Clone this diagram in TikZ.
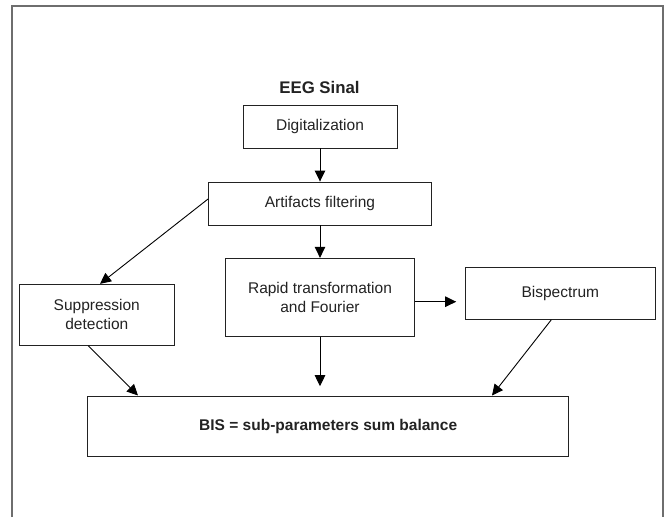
\documentclass[tikz,border=0pt]{standalone}
\usepackage{fontspec}
\setmainfont{Liberation Sans}
\usetikzlibrary{arrows.meta}
\definecolor{ink}{HTML}{222222}
\definecolor{framegray}{HTML}{6E6E6E}
\tikzset{
  box/.style={draw=ink, line width=0.9pt, align=center, inner sep=0pt, text=ink,
              font=\fontsize{15.5}{18.7}\selectfont},
  conn/.style={draw=black, line width=0.9pt, -{Triangle[length=11pt,width=10.5pt]}},
}
\begin{document}
\begin{tikzpicture}[x=1pt,y=-1pt]
\useasboundingbox (0,0) rectangle (669,517);
\draw[framegray, line width=1.4pt] (12,517) -- (12,6) -- (663,6) -- (663,517);

\node[text=ink, font=\bfseries\fontsize{16.8}{20}\selectfont] (eeg) at (319.5,87) {EEG Sinal};
\node[box, minimum width=154pt, minimum height=43pt] (dig) at (320,126.5) {Digitalization};
\node[box, minimum width=223pt, minimum height=43pt] (art) at (320,203.5) {Artifacts filtering};
\node[box, minimum width=155pt, minimum height=61pt] (sup) at (96.8,314.8) {Suppression\\detection};
\node[box, minimum width=188.6pt, minimum height=78pt] (rap) at (320,297.3) {Rapid transformation\\and Fourier};
\node[box, minimum width=189.3pt, minimum height=51.6pt] (bis) at (560.3,293.5) {Bispectrum};
\node[box, minimum width=481pt, minimum height=60.7pt, font=\bfseries\fontsize{15.5}{18.7}\selectfont] (bal) at (328.2,426.3) {BIS = sub-parameters sum balance};

\draw[conn] (dig.south) -- (art.north);
\draw[conn] ([yshift=4.5pt]art.west) -- ([xshift=3.2pt]sup.north);
\draw[conn] (art.south) -- (rap.north);
\draw[conn, shorten >=9pt] ([yshift=-4.4pt]rap.east) -- ([yshift=-4.4pt]rap.east -| bis.west);
\draw[conn] ([xshift=-8.5pt]sup.south) -- ([xshift=-190.2pt]bal.north);
\draw[conn, shorten >=9.3pt] (rap.south) -- (rap.south |- bal.north);
\draw[conn] ([xshift=-9pt]bis.south) -- ([xshift=163.8pt]bal.north);
\end{tikzpicture}
\end{document}
